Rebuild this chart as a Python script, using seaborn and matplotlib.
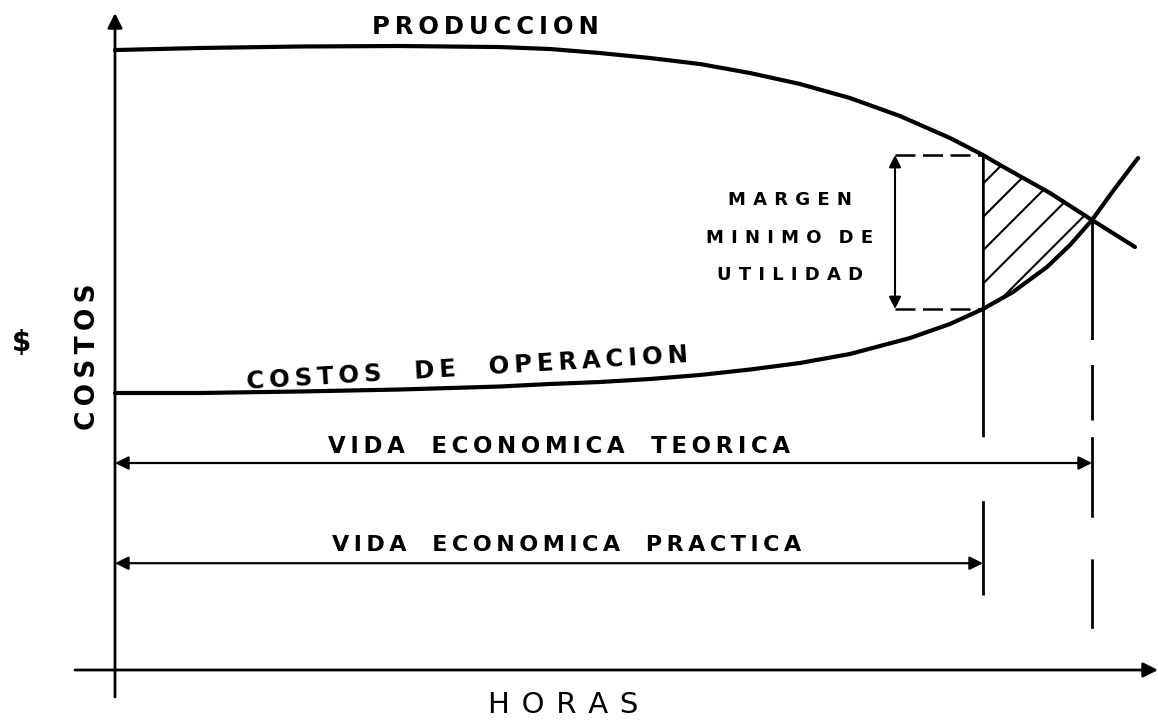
import numpy as np
import matplotlib
matplotlib.use("Agg")
import matplotlib.pyplot as plt
import seaborn as sns

# curvas (horas, costo)
horas_prod = [0, 8.5, 18.5, 28.5, 38.5, 43.5, 48.5, 53.5, 58.5, 63.5, 68.5,
              73.5, 78.5, 83.5, 86.8, 88.5, 93.5, 97.7, 102.0]
produccion = [103.33, 103.67, 103.92, 104.0, 103.83, 103.5, 102.83, 102.0,
              101.0, 99.5, 97.67, 95.33, 92.33, 88.67, 85.83, 84.17, 79.5,
              75.0, 70.5]

horas_oper = [0, 8.5, 18.5, 28.5, 38.5, 43.5, 48.5, 53.5, 58.5, 63.5, 68.5,
              73.5, 79.5, 83.5, 86.8, 89.8, 93.2, 95.5, 97.7, 99.8, 102.3]
costos_oper = [46.17, 46.17, 46.42, 46.75, 47.25, 47.67, 48.0, 48.5, 49.17,
               50.08, 51.17, 52.67, 55.33, 57.67, 60.17, 63.0, 67.17, 70.83,
               75.0, 79.83, 85.33]

vida_practica = 86.8
vida_teorica = 97.7
margen_x = 78.0

plt.rcParams["hatch.linewidth"] = 1.5
sns.set_theme(style="white")
plt.rcParams["font.family"] = ["DejaVu Sans"]

fig = plt.figure(figsize=(11.58, 7.24), dpi=100)
ax = fig.add_axes([0, 0, 1, 1])
ax.set_xlim(-11.5, 104.3)
ax.set_ylim(-9, 111.67)
ax.axis("off")


def spaced(s, n=1, gap=3):
    # separa letras como en la rotulacion a mano
    words = s.split(" ")
    sep = "\u2009" * n
    return ("\u2009" * gap + " ").join(sep.join(w) for w in words)


# curvas
sns.lineplot(x=horas_prod, y=produccion, ax=ax, color="black", lw=3)
sns.lineplot(x=horas_oper, y=costos_oper, ax=ax, color="black", lw=3)

# zona rayada entre curvas
px = [h for h in horas_prod if vida_practica <= h <= vida_teorica]
py = [c for h, c in zip(horas_prod, produccion) if vida_practica <= h <= vida_teorica]
ox = [h for h in horas_oper if vida_practica <= h <= vida_teorica][::-1]
oy = [c for h, c in zip(horas_oper, costos_oper) if vida_practica <= h <= vida_teorica][::-1]
ax.fill(px + ox, py + oy, facecolor="none", edgecolor="black", hatch="/", lw=1.5)

# ejes con flechas
ax.annotate("", xy=(0, 109.5), xytext=(0, -4.5),
            arrowprops=dict(arrowstyle="-|>", lw=2, color="black",
                            mutation_scale=22, shrinkA=0, shrinkB=0))
ax.annotate("", xy=(104.3, 0), xytext=(-4, 0),
            arrowprops=dict(arrowstyle="-|>", lw=2, color="black",
                            mutation_scale=22, shrinkA=0, shrinkB=0))

# lineas de vida economica (trazo irregular, de arriba hacia abajo)
p_prod = produccion[horas_prod.index(vida_practica)]
p_oper = costos_oper[horas_oper.index(vida_practica)]
t_cost = produccion[horas_prod.index(vida_teorica)]
ax.plot([vida_practica, vida_practica], [p_oper, p_prod], color="black", lw=1.8)
ax.plot([vida_practica, vida_practica], [p_oper, 12.5], color="black", lw=2,
        ls=(0, (46, 23, 34, 10)))
ax.plot([vida_teorica, vida_teorica], [t_cost, 6.7], color="black", lw=2,
        ls=(0, (43, 9, 20, 6, 29, 15, 25, 10)))

# margen minimo
for c in (p_prod, p_oper):
    ax.plot([margen_x, vida_practica], [c, c], color="black", lw=1.8,
            ls=(0, (8, 3)))
ax.annotate("", xy=(margen_x, p_prod), xytext=(margen_x, p_oper),
            arrowprops=dict(arrowstyle="<|-|>", lw=1.5, color="black",
                            mutation_scale=18, shrinkA=0, shrinkB=0))

ax.annotate("", xy=(0, 34.5), xytext=(vida_teorica, 34.5),
            arrowprops=dict(arrowstyle="<|-|>", lw=1.6, color="black",
                            mutation_scale=20, shrinkA=0, shrinkB=0))
ax.annotate("", xy=(0, 17.8), xytext=(vida_practica, 17.8),
            arrowprops=dict(arrowstyle="<|-|>", lw=1.6, color="black",
                            mutation_scale=20, shrinkA=0, shrinkB=0))

# textos
bold = dict(fontweight="bold", color="black", ha="center", va="center")
ax.text(37, 107.2, spaced("PRODUCCION", 1), fontsize=17.5, **bold)
ax.text(35.2, 50.2, spaced("COSTOS DE OPERACION", 1, 5), fontsize=17.5,
        rotation=3.5, **bold)
ax.text(44.4, 37.2, spaced("VIDA ECONOMICA TEORICA", 1, 4), fontsize=16.5,
        **bold)
ax.text(45.2, 20.8, spaced("VIDA ECONOMICA PRACTICA", 1, 4), fontsize=16,
        **bold)
for c, s in zip((78.3, 72.0, 65.8), ("MARGEN", "MINIMO DE", "UTILIDAD")):
    ax.text(67.5, c, spaced(s, 2), fontsize=13, **bold)
ax.text(-2.7, 52.2, spaced("COSTOS", 1), fontsize=19, rotation=90, **bold)
ax.text(-9.4, 54.5, "$", fontsize=20, **bold)
ax.text(44.8, -5.8, spaced("HORAS", 2), fontsize=21, color="black",
        ha="center", va="center")

fig.savefig("out.png", dpi=100)
